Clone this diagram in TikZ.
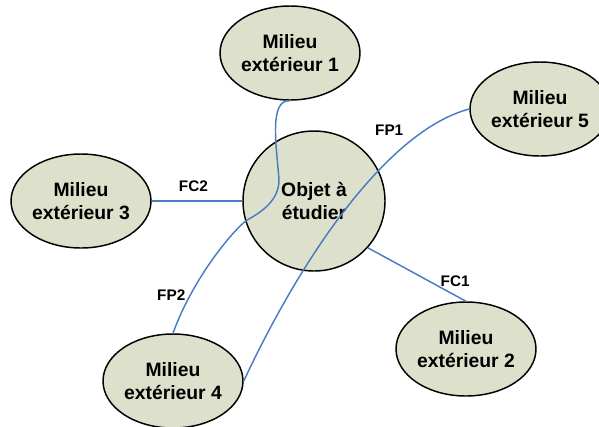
\documentclass[tikz,border=0pt]{standalone}
\usepackage{fontspec}
\setmainfont{Liberation Sans}
\usetikzlibrary{shapes.geometric,positioning}
\definecolor{milieufill}{HTML}{DDE0CB}
\definecolor{fluxblue}{HTML}{4A7CC4}

\begin{document}
\begin{tikzpicture}[ -, x=0.75pt, y=-0.75pt, node distance = 1cm, on grid,
                    main/.style = {ellipse, draw=black, line width=1.1pt, fill=milieufill,
                      inner sep=0pt, minimum width=105pt, minimum height=70.5pt, align=center,
                      font=\fontsize{14.5}{17.3}\selectfont\bfseries},
                    flux/.style = {draw=fluxblue, line width=1.1pt},
                    lbl/.style = {font=\fontsize{11.5}{14}\selectfont\bfseries}]
  \clip (0,0) rectangle (599,426);
  % objet au centre, milieux autour
    \node[main, minimum width=106.5pt, minimum height=105pt] (obj) at (314,201) {Objet à\\étudier};
\node[main, above left= 111pt and 18pt of obj] (m1) {Milieu\\extérieur 1};
\node[main, below right= 111pt and 114pt of obj] (m2) {Milieu\\extérieur 2};
\node[main, left= 174.75pt of obj] (m3) {Milieu\\extérieur 3};
\node[main, below left= 135pt and 105.75pt of obj] (m4) {Milieu\\extérieur 4};
\node[main, above right= 69pt and 169.5pt of obj] (m5) {Milieu\\extérieur 5};
    \path[every edge/.style={flux}]
(m3) edge node[lbl, pos=0.46, above=3pt] {FC2} (obj)
(obj.-41) edge node[lbl, pos=0.89, above=3pt] {FC1} (m2.north);
  % fonctions principales
    \draw[flux] (m4.east) .. controls (305,250) and (390,130) .. (m5.west)
      node[lbl, pos=0.65, above=17pt, xshift=3pt] {FP1};
    \draw[flux] (m1.south) .. controls (268,99) and (277,150) .. (279,180)
      .. controls (279,200) and (262,212) .. (247,220)
      .. controls (232,231) and (192,280) .. (m4.north)
      node[lbl, pos=0.75, left] {FP2};
\end{tikzpicture}
\end{document}
